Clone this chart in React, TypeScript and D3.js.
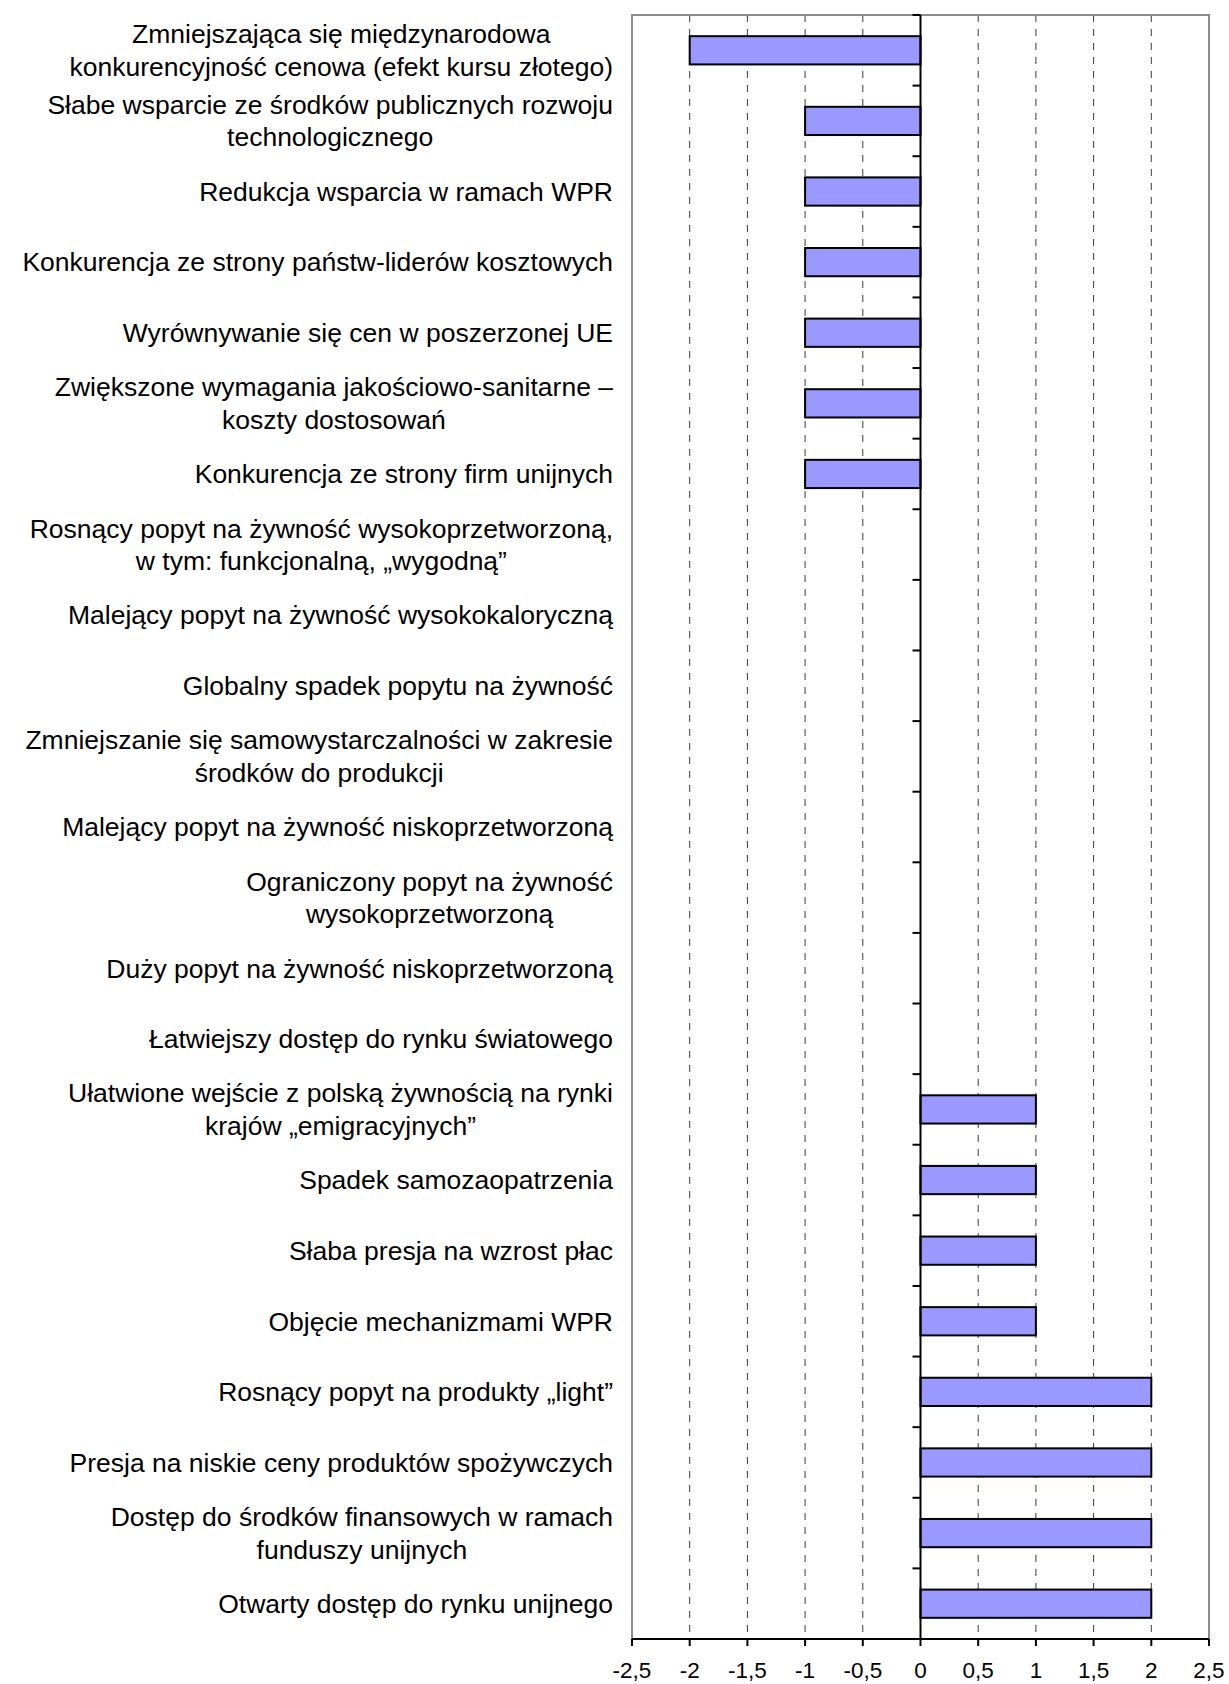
import React, { useMemo } from "react";
import * as d3 from "d3";

const categories: string[][] = [
  ["Zmniejszająca się międzynarodowa", "konkurencyjność cenowa (efekt kursu złotego)"],
  ["Słabe wsparcie ze środków publicznych rozwoju", "technologicznego"],
  ["Redukcja wsparcia w ramach WPR"],
  ["Konkurencja ze strony państw-liderów kosztowych"],
  ["Wyrównywanie się cen w poszerzonej UE"],
  ["Zwiększone wymagania jakościowo-sanitarne –", "koszty dostosowań"],
  ["Konkurencja ze strony firm unijnych"],
  ["Rosnący popyt na żywność wysokoprzetworzoną,", "w tym: funkcjonalną, „wygodną”"],
  ["Malejący popyt na żywność wysokokaloryczną"],
  ["Globalny spadek popytu na żywność"],
  ["Zmniejszanie się samowystarczalności w zakresie", "środków do produkcji"],
  ["Malejący popyt na żywność niskoprzetworzoną"],
  ["Ograniczony popyt na żywność", "wysokoprzetworzoną"],
  ["Duży popyt na żywność niskoprzetworzoną"],
  ["Łatwiejszy dostęp do rynku światowego"],
  ["Ułatwione wejście z polską żywnością na rynki", "krajów „emigracyjnych”"],
  ["Spadek samozaopatrzenia"],
  ["Słaba presja na wzrost płac"],
  ["Objęcie mechanizmami WPR"],
  ["Rosnący popyt na produkty „light”"],
  ["Presja na niskie ceny produktów spożywczych"],
  ["Dostęp do środków finansowych w ramach", "funduszy unijnych"],
  ["Otwarty dostęp do rynku unijnego"],
];

const values: number[] = [-2, -1, -1, -1, -1, -1, -1, 0, 0, 0, 0, 0, 0, 0, 0, 1, 1, 1, 1, 2, 2, 2, 2];

const xTicks: number[] = [-2.5, -2, -1.5, -1, -0.5, 0, 0.5, 1, 1.5, 2, 2.5];

const W = 1229;
const H = 1684;
const plot = { left: 632, right: 1209, top: 15, bottom: 1639 };
const labelRight = 613;
const labelFont = 26.5;
const lineH = 32.5;
const tickFont = 22.5;
const fontFamily = "'Liberation Sans', Arial, sans-serif";

const fmt = (v: number) => String(v).replace(".", ",");

export default function App() {
  const x = d3.scaleLinear().domain([-2.5, 2.5]).range([plot.left, plot.right]);
  const idx = categories.map((_, i) => String(i));
  const y = d3
    .scaleBand<string>()
    .domain(idx)
    .range([plot.top, plot.bottom])
    .paddingInner(0.6)
    .paddingOuter(0.3);
  const yOuter = d3.scaleBand<string>().domain(idx).range([plot.top, plot.bottom]);
  const step = yOuter.step();

  const widths = useMemo(() => {
    const c = document.createElement("canvas").getContext("2d");
    if (!c) return categories.map((ls) => ls.map(() => 0));
    c.font = `${labelFont}px ${fontFamily}`;
    return categories.map((ls) => ls.map((l) => c.measureText(l).width));
  }, []);

  const gridVals = xTicks.filter((v) => v !== 0 && v !== -2.5 && v !== 2.5);
  const bandEdges = d3.range(categories.length + 1).map((i) => plot.top + i * step);

  return (
    <svg
      width={W}
      height={H}
      style={{ position: "absolute", left: 0, top: 0, display: "block", background: "#fff" }}
      fontFamily={fontFamily}
    >
      <rect x={0} y={0} width={W} height={H} fill="#fff" />
      {gridVals.map((v) => (
        <line
          key={"g" + v}
          x1={x(v)}
          x2={x(v)}
          y1={plot.top}
          y2={plot.bottom}
          stroke="#3a3a3a"
          strokeWidth={1}
          strokeDasharray="7,7"
        />
      ))}
      <rect
        x={plot.left}
        y={plot.top}
        width={plot.right - plot.left}
        height={plot.bottom - plot.top}
        fill="none"
        stroke="#8c8c8c"
        strokeWidth={2}
      />
      {values.map((v, i) =>
        v === 0 ? null : (
          <rect
            key={"b" + i}
            x={Math.min(x(0), x(v))}
            y={y(String(i))!}
            width={Math.abs(x(v) - x(0))}
            height={y.bandwidth()}
            fill="#9999ff"
            stroke="#000"
            strokeWidth={2}
          />
        )
      )}
      <line x1={x(0)} x2={x(0)} y1={plot.top} y2={plot.bottom} stroke="#000" strokeWidth={2} />
      {bandEdges.map((e, i) => (
        <line key={"t" + i} x1={x(0) - 8} x2={x(0)} y1={e} y2={e} stroke="#000" strokeWidth={2} />
      ))}
      <line x1={plot.left} x2={plot.right} y1={plot.bottom} y2={plot.bottom} stroke="#000" strokeWidth={2} />
      {xTicks.map((v) => (
        <g key={"x" + v}>
          <line x1={x(v)} x2={x(v)} y1={plot.bottom} y2={plot.bottom + 7} stroke="#000" strokeWidth={2} />
          <text x={x(v)} y={1678} fontSize={tickFont} textAnchor="middle" fill="#000">
            {fmt(v)}
          </text>
        </g>
      ))}
      {categories.map((lines, i) => {
        const cy = yOuter(String(i))! + step / 2;
        const maxW = Math.max(...widths[i]);
        const cx = labelRight - maxW / 2;
        const n = lines.length;
        return (
          <g key={"l" + i}>
            {lines.map((l, j) => (
              <text
                key={j}
                x={cx}
                y={cy + (j - (n - 1) / 2) * lineH + 9.3}
                fontSize={labelFont}
                textAnchor="middle"
                fill="#000"
              >
                {l}
              </text>
            ))}
          </g>
        );
      })}
    </svg>
  );
}
